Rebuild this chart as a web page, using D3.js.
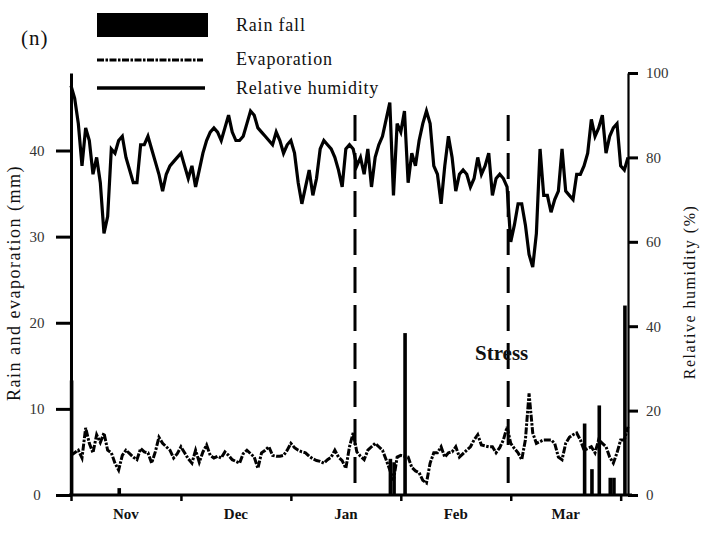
<!DOCTYPE html>
<head>
  <meta charset="utf-8">
  <script src="https://d3js.org/d3.v7.min.js"></script>
  <style>
    body { margin: 0; background: #fff; }
    text { font-family: "Liberation Serif", "DejaVu Serif", serif; fill: #111; }
    .tick text { font-size: 15px; fill: #333; }
    .domain, .tick line { stroke: #000; }
  </style>
</head>
<body>
  <script>
    var width = 705;
    var height = 536;

    // daily values, day 0 = 1 Nov ... day 152 = 1 Apr
    var humidity = [97, 94, 88, 78, 87, 84, 76, 80, 74, 62, 66, 82, 81, 84, 85, 80, 77, 74, 74, 83,
      83, 85, 82, 79, 76, 72, 76, 78, 79, 80, 81, 78, 75, 78, 73, 77, 81, 84, 86, 87,
      86, 84, 87, 90, 86, 84, 84, 85, 88, 91, 90, 87, 86, 85, 84, 83, 86, 84, 81, 83,
      84, 81, 74, 69, 73, 77, 71, 75, 82, 84, 83, 82, 80, 77, 73, 82, 83, 82, 78, 80,
      76, 82, 73, 80, 83, 85, 89, 93, 71, 88, 86, 91, 74, 81, 78, 84, 88, 91, 88, 78,
      76, 69, 78, 85, 80, 72, 76, 77, 76, 73, 75, 80, 76, 78, 81, 71, 75, 76, 75, 73,
      60, 64, 69, 69, 64, 57, 54, 62, 82, 71, 71, 67, 70, 72, 82, 72, 71, 70, 76, 76,
      78, 81, 89, 85, 87, 90, 81, 85, 87, 88, 78, 77, 80];

    var evaporation = [4.6, 4.9, 5.2, 4.3, 7.8, 6.0, 4.9, 7.0, 6.1, 7.2, 5.2, 4.9, 3.7, 2.9, 4.6, 5.2, 4.8, 4.4, 4.1, 5.4,
      5.0, 4.9, 3.7, 5.0, 6.7, 6.0, 5.6, 5.2, 4.3, 4.8, 5.6, 4.9, 4.2, 3.7, 5.2, 3.8, 5.0, 5.8, 4.6, 4.3,
      4.5, 4.3, 5.0, 4.6, 4.1, 3.9, 3.7, 4.8, 5.2, 4.8, 4.4, 3.1, 4.9, 5.2, 5.6, 4.6, 4.5, 4.5, 4.6, 5.2,
      6.0, 5.5, 5.2, 5.0, 4.9, 4.5, 4.2, 4.0, 3.9, 3.7, 4.1, 4.4, 5.2, 4.4, 4.0, 3.1, 5.6, 7.2, 5.0, 4.5,
      4.1, 5.2, 5.6, 6.0, 5.6, 5.2, 4.1, 2.9, 1.7, 4.4, 4.6, 4.5, 4.4, 3.2, 2.8, 2.6, 1.7, 1.4, 3.7, 4.9,
      4.9, 5.6, 4.4, 4.9, 5.0, 5.6, 4.4, 4.8, 5.2, 5.6, 6.4, 7.0, 5.8, 5.7, 5.6, 5.6, 4.9, 5.5, 6.4, 7.9,
      6.0, 5.4, 4.9, 4.1, 6.4, 11.8, 7.2, 6.0, 6.2, 6.4, 6.4, 6.4, 6.0, 4.4, 4.1, 6.0, 6.7, 7.0, 7.2, 6.4,
      5.2, 5.4, 5.6, 4.9, 6.4, 6.0, 5.6, 4.4, 3.7, 4.9, 6.4, 6.4, 7.9];

    var rainDays = [0, 13, 87, 88, 91, 140, 142, 144, 147, 148, 151];
    var rainfall = [13.3, 0.8, 4.2, 3.8, 18.8, 8.3, 3.0, 10.4, 2.0, 2.0, 22];

    var monthTicks = [0, 30, 60, 90, 120, 150];
    var monthMid = [15, 45, 75, 105, 135];
    var monthNames = ["Nov", "Dec", "Jan", "Feb", "Mar"];
    var stressBounds = [77.5, 119.3];
    var leftTicks = [0, 10, 20, 30, 40];
    var rightTicks = [0, 20, 40, 60, 80, 100];

    var svg = d3.select("body").append("svg")
        .attr("width", width)
        .attr("height", height);

    var x = d3.scaleLinear().domain([0, 152]).range([71, 628]);
    var yL = d3.scaleLinear().domain([0, 49]).range([495, 73]);
    var yR = d3.scaleLinear().domain([0, 100]).range([495, 73]);

    // rainfall bars
    svg.selectAll("rect.rain")
      .data(rainDays)
      .enter().append("rect")
      .attr("class", "rain")
      .attr("x", function (d) { return x(d) - 1.2; })
      .attr("width", 3.6)
      .attr("y", function (d, i) { return yL(rainfall[i]); })
      .attr("height", function (d, i) { return yL(0) - yL(rainfall[i]); })
      .attr("fill", "#000");

    // stress phase boundaries
    svg.selectAll("line.bound")
      .data(stressBounds)
      .enter().append("line")
      .attr("x1", function (d) { return x(d); })
      .attr("x2", function (d) { return x(d); })
      .attr("y1", 115)
      .attr("y2", yL(0))
      .attr("stroke", "#000")
      .attr("stroke-width", 3)
      .attr("stroke-dasharray", "26,12");

    var evapLine = d3.line()
      .x(function (d, i) { return x(i); })
      .y(function (d) { return yL(d); });
    svg.append("path")
      .datum(evaporation)
      .attr("d", evapLine)
      .attr("fill", "none")
      .attr("stroke", "#000")
      .attr("stroke-width", 3)
      .attr("stroke-dasharray", "7,1.5,2.5,1.5");

    var rhLine = d3.line()
      .x(function (d, i) { return x(i); })
      .y(function (d) { return yR(d); });
    svg.append("path")
      .datum(humidity)
      .attr("d", rhLine)
      .attr("fill", "none")
      .attr("stroke", "#000")
      .attr("stroke-width", 3.2)
      .attr("stroke-linejoin", "miter");

    // axes
    var gL = svg.append("g")
      .attr("transform", "translate(71,0)")
      .call(d3.axisLeft(yL).tickValues(leftTicks).tickSize(15).tickSizeOuter(0).tickPadding(12));
    gL.selectAll(".tick line").attr("stroke-width", 3);
    gL.select(".domain").attr("stroke-width", 3);
    gL.selectAll(".tick text").attr("text-anchor", "middle").attr("x", -34);

    var gR = svg.append("g")
      .attr("transform", "translate(628,0)")
      .call(d3.axisRight(yR).tickValues(rightTicks).tickSize(10).tickSizeOuter(0).tickPadding(8));
    gR.selectAll(".tick line").attr("stroke-width", 3);
    gR.select(".domain").attr("stroke-width", 2.2);

    var gB = svg.append("g")
      .attr("transform", "translate(0,495)")
      .call(d3.axisBottom(x).tickValues(monthTicks).tickSize(6).tickSizeOuter(0).tickFormat(""));
    gB.selectAll(".tick line").attr("stroke-width", 2.5);
    gB.select(".domain").attr("stroke-width", 3).attr("d", "M69,0H632");

    svg.selectAll("text.month")
      .data(monthMid)
      .enter().append("text")
      .attr("class", "month")
      .attr("x", function (d) { return x(d); })
      .attr("y", 519)
      .attr("text-anchor", "middle")
      .attr("font-size", 15)
      .attr("font-weight", "bold")
      .text(function (d, i) { return monthNames[i]; });

    svg.append("text")
      .attr("transform", "translate(20,283) rotate(-90)")
      .attr("text-anchor", "middle")
      .attr("font-size", 18)
      .attr("letter-spacing", 1.5)
      .text("Rain and evaporation (mm)");

    svg.append("text")
      .attr("transform", "translate(695,292) rotate(-90)")
      .attr("text-anchor", "middle")
      .attr("font-size", 16)
      .attr("letter-spacing", 1.5)
      .attr("fill", "#333")
      .text("Relative humidity (%)");

    svg.append("text")
      .attr("x", 475)
      .attr("y", 360)
      .attr("font-size", 21)
      .attr("font-weight", "bold")
      .text("Stress");

    svg.append("text")
      .attr("x", 21)
      .attr("y", 45)
      .attr("font-family", "Liberation Sans, Arial, sans-serif")
      .attr("font-size", 21)
      .attr("letter-spacing", 1)
      .text("(n)");

    // legend
    var legend = svg.append("g");
    legend.append("rect")
      .attr("x", 97).attr("y", 13).attr("width", 111).attr("height", 24)
      .attr("fill", "#000");
    legend.append("line")
      .attr("x1", 97).attr("x2", 203).attr("y1", 60).attr("y2", 60)
      .attr("stroke", "#000").attr("stroke-width", 3)
      .attr("stroke-dasharray", "7,1.5,2.5,1.5");
    legend.append("line")
      .attr("x1", 97).attr("x2", 205).attr("y1", 88).attr("y2", 88)
      .attr("stroke", "#000").attr("stroke-width", 3.5);
    var labels = ["Rain fall", "Evaporation", "Relative humidity"];
    legend.selectAll("text")
      .data(labels)
      .enter().append("text")
      .attr("x", 236)
      .attr("y", function (d, i) { return [31, 65, 94][i]; })
      .attr("font-size", 18)
      .attr("letter-spacing", 0.8)
      .text(function (d) { return d; });
  </script>
</body>
